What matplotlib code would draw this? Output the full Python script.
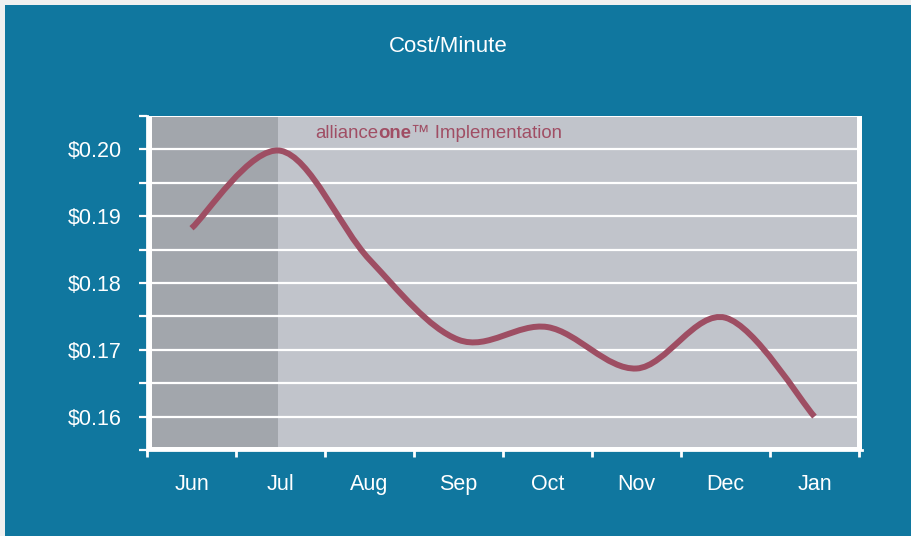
import numpy as np
import matplotlib
matplotlib.use("Agg")
import matplotlib.pyplot as plt
from matplotlib.patches import Rectangle
from matplotlib.path import Path
from matplotlib.patches import PathPatch
from matplotlib.offsetbox import TextArea, HPacker, AnnotationBbox

plt.rcParams['font.family'] = ['Liberation Sans', 'DejaVu Sans']

# data
months = ['Jun', 'Jul', 'Aug', 'Sep', 'Oct', 'Nov', 'Dec', 'Jan']
cost_per_minute = [0.1882, 0.1998, 0.1835, 0.1715, 0.1734, 0.1672, 0.1748, 0.1600]
y_labels = ['$0.16', '$0.17', '$0.18', '$0.19', '$0.20']
y_label_values = [0.16, 0.17, 0.18, 0.19, 0.20]
implementation_start = 1.47   # shaded region ends here (x in month units)

BLUE = '#10779f'
PANEL = '#c1c4cb'
SHADE = '#a2a6ac'
LINE = '#9e4e63'
EDGE = '#f0f0f0'

fig = plt.figure(figsize=(9.12, 5.36), dpi=100, facecolor=BLUE)
# thin light strips at top and left
fig.patches.append(Rectangle((0, 1 - 5 / 536), 1, 5 / 536, transform=fig.transFigure,
                             facecolor=EDGE, edgecolor='none', zorder=-10))
fig.patches.append(Rectangle((0, 0), 5 / 912, 1, transform=fig.transFigure,
                             facecolor=EDGE, edgecolor='none', zorder=-10))

ax = fig.add_axes([147 / 912, 1 - 450 / 536, (862 - 147) / 912, (450 - 116) / 536])
ax.set_zorder(1)
ax.set_facecolor('white')
ax.set_xlim(0, 8.034)
ax.set_ylim(0.155, 0.205)

# grey panel inside the white frame
ax.add_patch(Rectangle((5 / 715, 3 / 334), 1 - 10 / 715, 1 - 4 / 334, transform=ax.transAxes,
                       facecolor=PANEL, edgecolor='none', zorder=0))
ax.axvspan(5 / 89, implementation_start, ymin=3 / 334, ymax=1 - 1 / 334,
           facecolor=SHADE, edgecolor='none', zorder=0.5)

for yv in np.arange(0.16, 0.2001, 0.005):
    ax.axhline(yv, color='white', linewidth=1.6, zorder=1)

# smoothed line through the monthly points (Catmull-Rom style bezier)
xs = np.arange(len(months)) + 0.5
ys = np.array(cost_per_minute)
pts = np.column_stack([xs, ys])
verts = [pts[0]]
codes = [Path.MOVETO]
for i in range(len(pts) - 1):
    p0 = pts[i - 1] if i > 0 else pts[i]
    p1 = pts[i]
    p2 = pts[i + 1]
    p3 = pts[i + 2] if i + 2 < len(pts) else pts[i + 1]
    c1 = p1 + (p2 - p0) / 6
    c2 = p2 - (p3 - p1) / 6
    verts += [c1, c2, p2]
    codes += [Path.CURVE4] * 3
ax.add_patch(PathPatch(Path(verts, codes), facecolor='none', edgecolor=LINE,
                       linewidth=4.3, capstyle='butt', joinstyle='round', zorder=3))

# spines and ticks
for side in ['top', 'right']:
    ax.spines[side].set_visible(False)
for side in ['left', 'bottom']:
    ax.spines[side].set_color('white')
    ax.spines[side].set_linewidth(2)

ax.set_yticks(y_label_values)
ax.set_yticklabels(y_labels)
ax.set_yticks(np.arange(0.155, 0.2051, 0.01), minor=True)
ax.tick_params(axis='y', which='both', direction='out', length=6, width=1.6,
               color='white', labelcolor='white', labelsize=15.5, pad=12)

ax.set_xticks(np.arange(0, 9))
ax.set_xticklabels([])
ax.set_xticks(xs, minor=True)
ax.set_xticklabels(months, minor=True)
ax.tick_params(axis='x', which='major', direction='out', length=5, width=2, color='white')
ax.tick_params(axis='x', which='minor', length=0, labelcolor='white', labelsize=15.5, pad=17)

fig.text(448 / 912, 1 - 46 / 536, 'Cost/Minute', color='white', fontsize=16,
         ha='center', va='center')

# annotation with bold "one"
txt_color = '#a04e64'
parts = HPacker(children=[
    TextArea('alliance', textprops=dict(color=txt_color, fontsize=13.4)),
    TextArea('one', textprops=dict(color=txt_color, fontsize=13.4, fontweight='bold')),
    TextArea('\u2122 Implementation', textprops=dict(color=txt_color, fontsize=13.4)),
], align='baseline', pad=0, sep=0)
ab = AnnotationBbox(parts, (315 / 912, 1 - 133 / 536), xycoords='figure fraction',
                    box_alignment=(0, 0.5), frameon=False, pad=0, zorder=5)
fig.add_artist(ab)

fig.savefig('out.png', dpi=100, facecolor=fig.get_facecolor())
